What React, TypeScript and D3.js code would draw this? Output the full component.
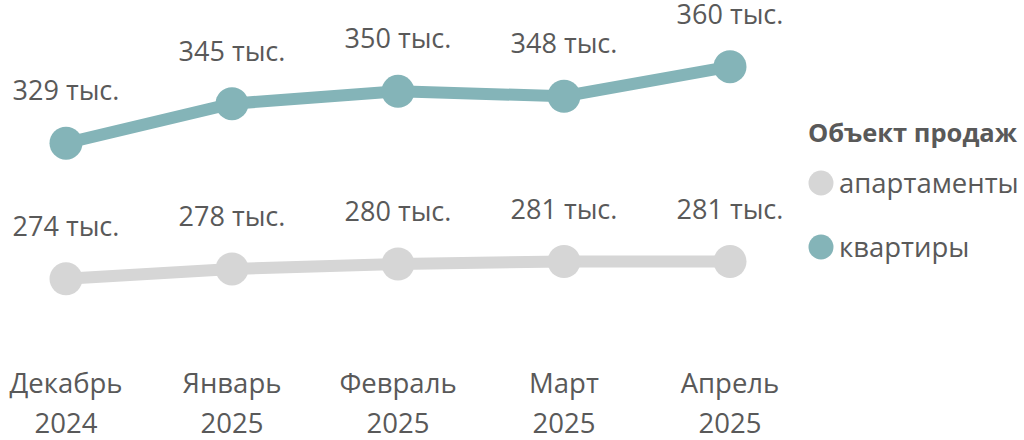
import { useEffect, useRef } from 'react';
import * as d3 from 'd3';

const months = ['Декабрь', 'Январь', 'Февраль', 'Март', 'Апрель'];
const years = ['2024', '2025', '2025', '2025', '2025'];
const apartments = [274, 278, 280, 281, 281];
const flats = [329, 345, 350, 348, 360];
const seriesNames = ['апартаменты', 'квартиры'];
const seriesColors = ['#d6d6d6', '#84b4b8'];
const legendTitle = 'Объект продаж';

const width = 1024;
const height = 440;
const textColor = '#595959';
const font = '"Open Sans", "DejaVu Sans", sans-serif';

const App = () => {
    const chartRef = useRef<SVGSVGElement | null>(null);

    useEffect(() => {
        const svg = d3.select(chartRef.current);
        svg.selectAll('*').remove();

        const xScale = d3.scalePoint<number>()
            .domain(d3.range(months.length))
            .range([66, 730]);

        const yScale = d3.scaleLinear()
            .domain([250, 370])
            .range([338, 42]);

        const series = [apartments, flats];

        series.forEach((values, si) => {
            const g = svg.append('g');
            const line = d3.line<number>()
                .x((_, i) => xScale(i) as number)
                .y(d => yScale(d));

            g.append('path')
                .datum(values)
                .attr('fill', 'none')
                .attr('stroke', seriesColors[si])
                .attr('stroke-width', 12)
                .attr('stroke-linejoin', 'round')
                .attr('d', line);

            g.selectAll('circle')
                .data(values)
                .join('circle')
                .attr('cx', (_, i) => xScale(i) as number)
                .attr('cy', d => yScale(d))
                .attr('r', 16.5)
                .attr('fill', seriesColors[si]);

            g.selectAll('text')
                .data(values)
                .join('text')
                .attr('x', (_, i) => xScale(i) as number)
                .attr('y', d => yScale(d) - 43)
                .attr('text-anchor', 'middle')
                .attr('font-family', font)
                .attr('font-size', 27)
                .attr('fill', textColor)
                .text(d => `${d} тыс.`);
        });

        // x axis labels, two lines
        const axis = svg.append('g');
        axis.selectAll('text')
            .data(months)
            .join('text')
            .attr('x', (_, i) => xScale(i) as number)
            .attr('y', 393)
            .attr('text-anchor', 'middle')
            .attr('font-family', font)
            .attr('font-size', 27.5)
            .attr('fill', textColor)
            .each(function (d, i) {
                const t = d3.select(this);
                t.append('tspan').attr('x', xScale(i) as number).text(d);
                t.append('tspan').attr('x', xScale(i) as number).attr('dy', 40).text(years[i]);
            });

        // legend
        const legend = svg.append('g');
        legend.append('text')
            .attr('x', 808)
            .attr('y', 142)
            .attr('font-family', font)
            .attr('font-size', 25.5)
            .attr('font-weight', 'bold')
            .attr('fill', textColor)
            .text(legendTitle);

        seriesNames.forEach((name, i) => {
            const cy = 183 + i * 64;
            legend.append('circle')
                .attr('cx', 821)
                .attr('cy', cy)
                .attr('r', 12.5)
                .attr('fill', seriesColors[i]);
            legend.append('text')
                .attr('x', 839)
                .attr('y', cy + 10)
                .attr('font-family', font)
                .attr('font-size', 27.5)
                .attr('fill', textColor)
                .text(name);
        });
    }, []);

    return (
        <svg ref={chartRef} width={width} height={height}
            style={{ position: 'absolute', left: 0, top: 0, background: '#fff' }}></svg>
    );
};

export default App;
